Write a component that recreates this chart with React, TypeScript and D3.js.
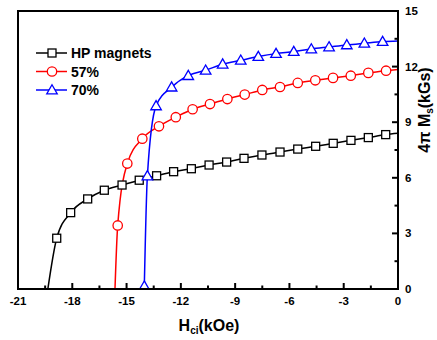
import React from 'react';
import * as d3 from 'd3';

const xTicks = [-21, -18, -15, -12, -9, -6, -3, 0];
const yTicks = [0, 3, 6, 9, 12, 15];

const hpX = [-18.86, -18.09, -17.15, -16.23, -15.25, -14.3, -13.34, -12.4, -11.42, -10.44, -9.47, -8.51, -7.52, -6.52, -5.54, -4.55, -3.58, -2.6, -1.64, -0.68];
const hpY = [2.74, 4.12, 4.86, 5.33, 5.61, 5.87, 6.11, 6.33, 6.49, 6.69, 6.85, 7.05, 7.23, 7.39, 7.55, 7.7, 7.86, 8.02, 8.17, 8.33];
const hpStartX = -19.35;
const hpEndY = 8.4;

const p57X = [-15.49, -14.96, -14.13, -13.21, -12.28, -11.35, -10.39, -9.43, -8.47, -7.5, -6.52, -5.54, -4.57, -3.59, -2.61, -1.64, -0.66];
const p57Y = [3.43, 6.77, 8.11, 8.78, 9.27, 9.7, 9.98, 10.25, 10.49, 10.74, 10.9, 11.12, 11.26, 11.39, 11.51, 11.66, 11.78];
const p57StartX = -15.64;
const p57EndY = 11.85;

const p70X = [-14.02, -13.85, -13.37, -12.51, -11.59, -10.63, -9.69, -8.69, -7.72, -6.74, -5.76, -4.79, -3.81, -2.83, -1.86, -0.85];
const p70Y = [0.15, 6.1, 9.88, 10.89, 11.51, 11.8, 12.13, 12.34, 12.54, 12.7, 12.81, 12.95, 13.06, 13.17, 13.26, 13.35];
const p70StartX: number | null = null;
const p70EndY = 13.38;

const seriesNames = ['HP magnets', '57%', '70%'];
const seriesColors = ['#000000', '#ff0000', '#0000ff'];
const seriesShapes = ['square', 'circle', 'triangle'];

const W = 437, H = 340;
const L = 18, R = 398, T = 11, B = 289;
const FONT = 'Arial, "Liberation Sans", Helvetica, sans-serif';

const x = d3.scaleLinear().domain([-21, 0]).range([L, R]);
const y = d3.scaleLinear().domain([0, 15]).range([B, T]);

function Marker({ shape, cx, cy, color }: { shape: string; cx: number; cy: number; color: string }) {
  const sw = 1.3;
  if (shape === 'square') {
    const s = 8;
    return <rect x={cx - s / 2} y={cy - s / 2} width={s} height={s} fill="#fff" stroke={color} strokeWidth={sw} />;
  }
  if (shape === 'circle') {
    return <circle cx={cx} cy={cy} r={4.7} fill="#fff" stroke={color} strokeWidth={sw} />;
  }
  const sym = d3.symbol().type(d3.symbolTriangle).size(48)();
  return <path d={sym || ''} transform={`translate(${cx},${cy + 0.8})`} fill="#fff" stroke={color} strokeWidth={sw} />;
}

export default function App() {
  const series = [
    { xs: hpX, ys: hpY, start: hpStartX as number | null, end: hpEndY },
    { xs: p57X, ys: p57Y, start: p57StartX as number | null, end: p57EndY },
    { xs: p70X, ys: p70Y, start: p70StartX, end: p70EndY },
  ];
  const line = d3
    .line<[number, number]>()
    .x((d) => x(d[0]))
    .y((d) => y(d[1]))
    .curve(d3.curveMonotoneX);

  const minorX: number[] = [];
  for (let i = 0; i < xTicks.length - 1; i++) minorX.push((xTicks[i] + xTicks[i + 1]) / 2);
  const minorY: number[] = [];
  for (let i = 0; i < yTicks.length - 1; i++) minorY.push((yTicks[i] + yTicks[i + 1]) / 2);

  return (
    <svg width={W} height={H} style={{ position: 'fixed', left: 0, top: 0, background: '#fff' }} fontFamily={FONT}>
      <rect x={0} y={0} width={W} height={H} fill="#fff" />
      <defs>
        <clipPath id="plotclip">
          <rect x={L} y={T} width={R - L} height={B - T} />
        </clipPath>
      </defs>
      <g clipPath="url(#plotclip)">
        {series.map((s, si) => {
          const pts: [number, number][] = [];
          if (s.start !== null) pts.push([s.start, 0]);
          s.xs.forEach((v, i) => pts.push([v, s.ys[i]]));
          pts.push([0, s.end]);
          return <path key={si} d={line(pts) || ''} fill="none" stroke={seriesColors[si]} strokeWidth={1.5} />;
        })}
        {series.map((s, si) =>
          s.xs.map((v, i) => (
            <Marker key={`${si}-${i}`} shape={seriesShapes[si]} cx={x(v)} cy={y(s.ys[i])} color={seriesColors[si]} />
          ))
        )}
      </g>
      {/* frame */}
      <rect x={L} y={T} width={R - L} height={B - T} fill="none" stroke="#000" strokeWidth={2} />
      {/* bottom ticks */}
      {xTicks.map((t) => (
        <line key={`xt${t}`} x1={x(t)} x2={x(t)} y1={B} y2={B - 6} stroke="#000" strokeWidth={2} />
      ))}
      {minorX.map((t) => (
        <line key={`xm${t}`} x1={x(t)} x2={x(t)} y1={B} y2={B - 3.5} stroke="#000" strokeWidth={2} />
      ))}
      {yTicks.map((t) => (
        <line key={`yt${t}`} x1={R} x2={R - 6} y1={y(t)} y2={y(t)} stroke="#000" strokeWidth={2} />
      ))}
      {minorY.map((t) => (
        <line key={`ym${t}`} x1={R} x2={R - 3.5} y1={y(t)} y2={y(t)} stroke="#000" strokeWidth={2} />
      ))}
      {/* tick labels */}
      {xTicks.map((t) => (
        <text key={`xl${t}`} x={x(t)} y={305} textAnchor="middle" fontSize={11.5} fontWeight="bold" fill="#000">
          {t}
        </text>
      ))}
      {yTicks.map((t) => (
        <text key={`yl${t}`} x={405} y={y(t) + 4} textAnchor="start" fontSize={11.5} fontWeight="bold" fill="#000">
          {t}
        </text>
      ))}
      {/* axis titles */}
      <text x={209} y={331} textAnchor="middle" fontSize={16} fontWeight="bold" fill="#000">
        H<tspan fontSize={10} dy={3}>ci</tspan>
        <tspan dy={-3}>(kOe)</tspan>
      </text>
      <text transform="translate(430,110) rotate(-90)" textAnchor="middle" fontSize={16} fontWeight="bold" fill="#000">
        4π M<tspan fontSize={10} dy={2.5}>s</tspan>
        <tspan dy={-2.5}>(kGs)</tspan>
      </text>
      {/* legend */}
      {seriesNames.map((n, i) => {
        const ly = 53 + i * 18.5;
        return (
          <g key={n}>
            <line x1={36} x2={67} y1={ly} y2={ly} stroke={seriesColors[i]} strokeWidth={1.5} />
            <Marker shape={seriesShapes[i]} cx={52} cy={ly} color={seriesColors[i]} />
            <text x={71} y={ly + 5} fontSize={14} fontWeight="bold" fill="#000">
              {n}
            </text>
          </g>
        );
      })}
    </svg>
  );
}
